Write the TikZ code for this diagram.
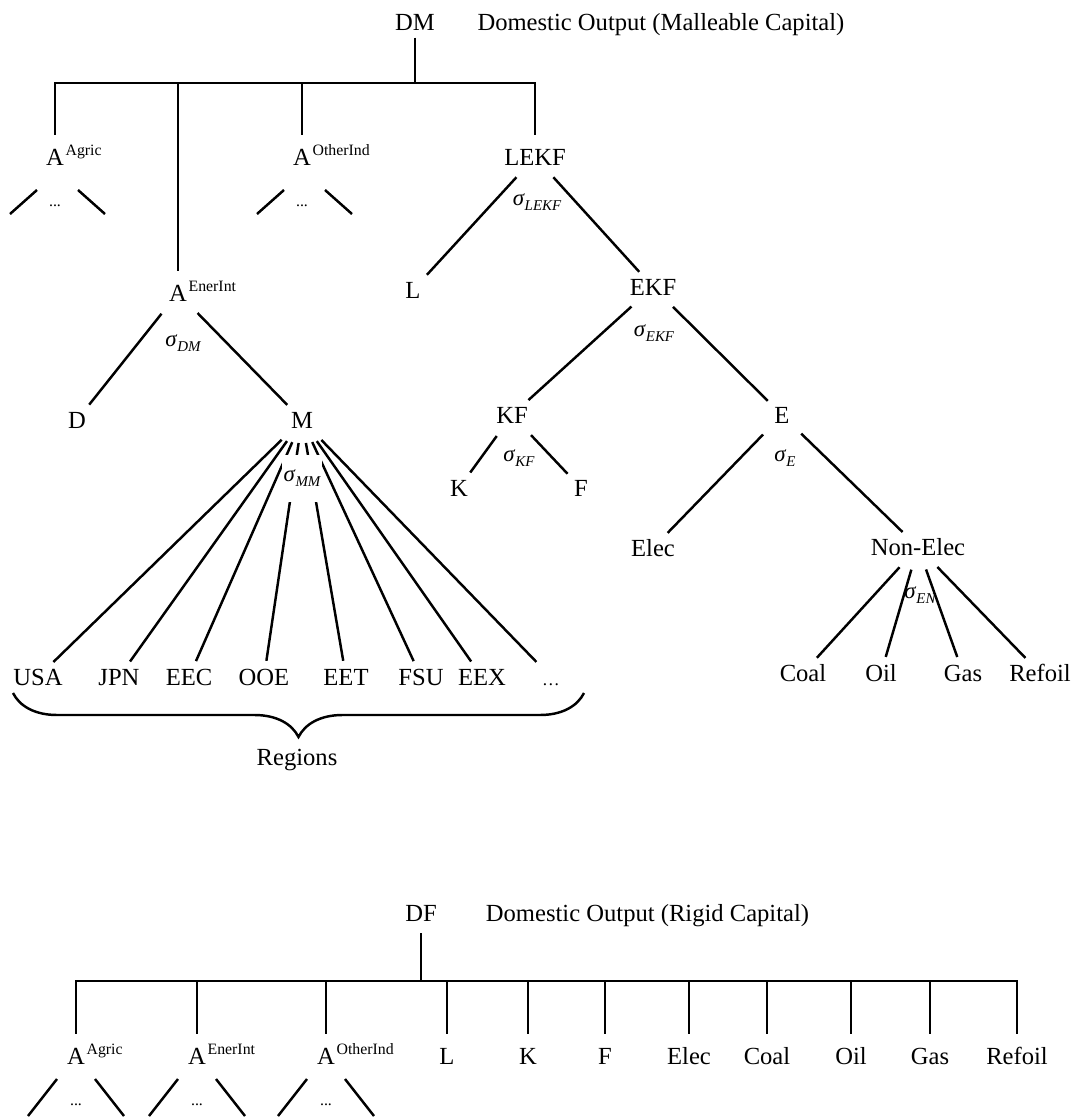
\documentclass[tikz,border=0pt]{standalone}
\usepackage{fontspec}
\setmainfont{Liberation Serif}
\usepackage{tikz}
\usetikzlibrary{calc,positioning,decorations.pathreplacing}
\newcommand{\elas}[1]{\textit{σ}\raisebox{-2.5pt}{\fontsize{8.5}{9}\selectfont\itshape #1}}
\newcommand{\asect}[1]{A\rlap{\kern1pt\raisebox{5.5pt}{\fontsize{9}{10}\selectfont #1}}}
\tikzset{
  term/.style={font=\fontsize{14}{16}\selectfont,inner sep=2pt,text height=9.5pt,text depth=0pt},
  elasticity/.style={font=\fontsize{13}{15}\selectfont,inner sep=1pt},
  etc/.style={font=\fontsize{9}{10}\selectfont,inner sep=1pt},
  heading/.style={font=\fontsize{14}{16}\selectfont,inner sep=0pt},
  branch/.style={line width=1.4pt,shorten <=6.2pt,shorten >=2.3pt},
  drop/.style={line width=1.4pt,shorten <=5.7pt},
  stub/.style={line width=1.4pt},
  regionbrace/.style={decorate,decoration={brace,mirror,amplitude=0.88cm},line width=1.4pt}
}
\begin{document}
\begin{tikzpicture}[x=0.02cm,y=-0.02cm]
  \fill[white] (0,0) rectangle (1081,1119);
  % malleable capital
  \node[term] (DM) at (415,22) {DM};
  \node[heading,base right=0.77cm of DM] (titleM) {Domestic Output (Malleable Capital)};
  \coordinate (barM) at (415,83);
  \node[term] (AgrM) at (55,157) {\asect{Agric}};
  \node[term] (EnerM) at (178,293) {\asect{EnerInt}};
  \node[term] (OthM) at (302,157) {\asect{OtherInd}};
  \node[term] (LEKF) at (535,157) {LEKF};
  \draw[drop,shorten <=2pt] (DM) -- (DM |- barM);
  \foreach \n in {AgrM,EnerM,OthM,LEKF}
    \draw[drop] (\n) |- (barM);
  \foreach \n in {AgrM,OthM} {
    \draw[stub] ($(\n)+(-18,33)$) -- ++(-27,24);
    \draw[stub] ($(\n)+(23,33)$) -- ++(27,24);
    \node[etc] (\n-dots) at ($(\n)+(0,49)$) {...};
  }
  \node[term] (L) at (413,290) {L};
  \node[term] (EKF) at (653,287) {EKF};
  \node[term] (KF) at (512,415) {KF};
  \node[term] (E) at (782,415) {E};
  \node[term] (K) at (459,488) {K};
  \node[term] (F) at (581,488) {F};
  \node[term] (Elec) at (653,548) {Elec};
  \node[term] (NonElec) at (918,547) {Non-Elec};
  \foreach \name/\x in {Coal/803,Oil/881,Gas/963,Refoil/1040}
    \node[term] (\name) at (\x,673) {\name};
  \draw[branch] (LEKF) -- (L);
  \draw[branch] (LEKF) -- (EKF);
  \draw[branch] (EKF) -- (KF);
  \draw[branch] (EKF) -- (E);
  \draw[branch] (KF) -- (K);
  \draw[branch] (KF) -- (F);
  \draw[branch] (E) -- (Elec);
  \draw[branch] (E) -- (NonElec);
  \foreach \name in {Coal,Oil,Gas,Refoil}
    \draw[branch] (NonElec) -- (\name);
  \node[elasticity] (sLEKF) at (537,202) {\elas{LEKF}};
  \node[elasticity] (sEKF) at (654,333) {\elas{EKF}};
  \node[elasticity] (sKF) at (519,458) {\elas{KF}};
  \node[elasticity] (sE) at (785,458) {\elas{E}};
  \node[elasticity] (sEN) at (920,595) {\elas{EN}};
  % imports by region
  \node[term] (D) at (77,420) {D};
  \node[term] (M) at (302,420) {M};
  \draw[branch] (EnerM) -- (D);
  \draw[branch] (EnerM) -- (M);
  \node[elasticity] (sDM) at (183,343) {\elas{DM}};
  \foreach \name/\x in {USA/38,JPN/119,EEC/189,OOE/264,EET/346,FSU/421,EEX/482}
    \node[term] (\name) at (\x,677) {\name};
  \node[term,font=\fontsize{10}{12}\selectfont] (more) at (551,677) {\ldots};
  \foreach \name in {USA,JPN,EEC,OOE,EET,FSU,EEX,more}
    \draw[branch] (M) -- (\name);
  \node[elasticity,fill=white,minimum height=0.94cm] (sMM) at (302,478) {\elas{MM}};
  \coordinate (braceL) at (13,693);
  \coordinate (braceR) at (584,693);
  \draw[regionbrace] (braceL) -- (braceR);
  \node[term] (regions) at (297,757) {Regions};
  % rigid capital
  \node[term] (DF) at (421,913) {DF};
  \node[heading,base right=0.9cm of DF] (titleF) {Domestic Output (Rigid Capital)};
  \coordinate (barF) at (421,981);
  \node[term] (AgrF) at (76,1056) {\asect{Agric}};
  \node[term] (EnerF) at (197,1056) {\asect{EnerInt}};
  \node[term] (OthF) at (326,1056) {\asect{OtherInd}};
  \foreach \name/\txt/\x in {Lr/L/447,Kr/K/528,Fr/F/605,Elecr/Elec/689,Coalr/Coal/767,Oilr/Oil/851,Gasr/Gas/930,Refoilr/Refoil/1017}
    \node[term] (\name) at (\x,1056) {\txt};
  \draw[drop,shorten <=4.6pt] (DF) -- (DF |- barF);
  \foreach \n in {AgrF,EnerF,OthF,Lr,Kr,Fr,Elecr,Coalr,Oilr,Gasr,Refoilr}
    \draw[drop] (\n) |- (barF);
  \foreach \n in {AgrF,EnerF,OthF} {
    \draw[stub] ($(\n)+(-19,23)$) -- ++(-29,37);
    \draw[stub] ($(\n)+(19,23)$) -- ++(29,37);
    \node[etc] (\n-dots) at ($(\n)+(0,49)$) {...};
  }
\end{tikzpicture}
\end{document}
